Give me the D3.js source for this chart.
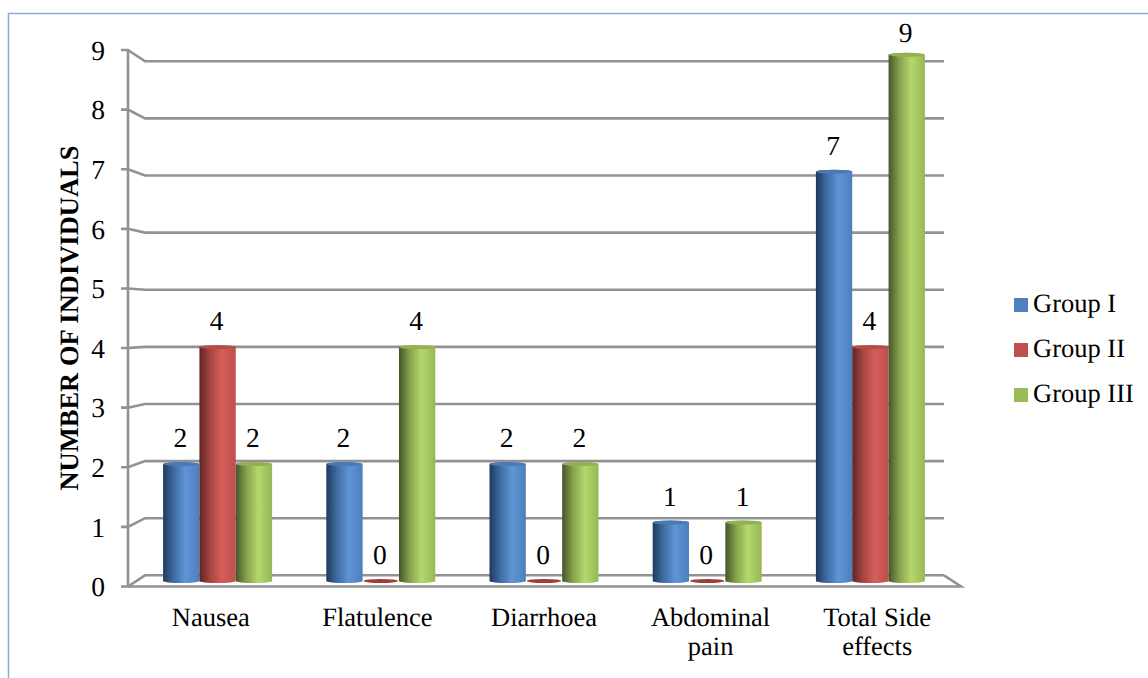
<!DOCTYPE html>
<html>
<head>
<meta charset="utf-8">
<script src="https://cdn.jsdelivr.net/npm/d3@7"></script>
<style>
html,body{margin:0;padding:0;background:#fff}
svg{display:block}
text{font-family:"Liberation Serif","Times New Roman",serif;fill:#000;text-rendering:geometricPrecision}
</style>
</head>
<body>
<div id="chart"></div>
<script>
// Side effects by treatment group
const categories = [["Nausea"], ["Flatulence"], ["Diarrhoea"], ["Abdominal", "pain"], ["Total Side", "effects"]];
const groups = ["Group I", "Group II", "Group III"];
const groupOne = [2, 2, 2, 1, 7];
const groupTwo = [4, 0, 0, 0, 4];
const groupThree = [2, 4, 2, 1, 9];
const seriesValues = [groupOne, groupTwo, groupThree];
const tickValues = [0, 1, 2, 3, 4, 5, 6, 7, 8, 9];
const yTitle = "NUMBER OF INDIVIDUALS";

const swatches = ["#4f81bd", "#c0504d", "#9bbb59"];
const shades = [
  ["#1f3a5c", "#3f6ca3", "#5f94d6", "#4d7fbb"],
  ["#5c2523", "#a84542", "#d65d5a", "#bd504d"],
  ["#46552a", "#87a24d", "#b4d86c", "#97b757"]
];
const gridColor = "#929292";

const width = 1148, height = 678;
const svg = d3.select("#chart").append("svg").attr("width", width).attr("height", height);
const defs = svg.append("defs");

shades.forEach((stops, i) => {
  const g = defs.append("linearGradient").attr("id", "cyl" + i)
    .attr("x1", 0).attr("x2", 1).attr("y1", 0).attr("y2", 0);
  [0, 0.3, 0.62, 1].forEach((o, k) =>
    g.append("stop").attr("offset", o).attr("stop-color", stops[k]));
});

// Enclosing frame, open at the right and the bottom
svg.append("path").attr("d", `M8.5,${height}V13.5H${width}`)
  .attr("fill", "none").attr("stroke", "#8eaadb").attr("stroke-width", 1.5);

// The pseudo-3D plot has a front plane, a back wall and a bar plane
const yFront = d3.scaleLinear().domain([0, 9]).range([586.5, 50]);
const yBack = d3.scaleLinear().domain([0, 9]).range([575.3, 61.3]);
const yBar = d3.scaleLinear().domain([0, 9]).range([581, 54.8]);
const x0 = d3.scaleBand().domain(d3.range(categories.length)).range([136, 952]);
const xFront = d3.scaleBand().domain(d3.range(categories.length)).range([128, 961]);
const x1 = d3.scaleBand().domain(d3.range(groups.length)).range([0, 109]);

const frontX = 128, backX = 145, backRight = 944;
const wall = svg.append("g").attr("fill", "none").attr("stroke", gridColor)
  .attr("stroke-width", 2.6);

wall.selectAll(".grid").data(tickValues).join("path").attr("class", "grid")
  .attr("d", d => `M${frontX - 7},${yFront(d)}H${frontX}L${backX},${yBack(d)}H${backRight}`);
wall.append("path")
  .attr("d", `M${frontX},${yFront(9)}V${yFront(0)}`);
wall.append("path")
  .attr("d", `M${frontX},${yFront(0)}H${frontX + (backRight - backX) + 2 * (backX - frontX)}L${backRight},${yBack(0)}`);

svg.append("g").selectAll("text").data(tickValues).join("text")
  .attr("x", 105).attr("y", d => yFront(d) + 9.7)
  .attr("text-anchor", "end").attr("font-size", 27.5)
  .text(d => d);

svg.append("text")
  .attr("transform", "translate(78,318) rotate(-90)")
  .attr("text-anchor", "middle").attr("font-size", 26.5).attr("font-weight", "bold")
  .text(yTitle);

// Cylinders
const ry = 2;
const cylinder = (x, w, top, bottom) =>
  `M${x},${top}A${w / 2},${ry} 0 0 1 ${x + w},${top}V${bottom}A${w / 2},${ry} 0 0 1 ${x},${bottom}Z`;

const catGroups = svg.append("g").selectAll("g").data(categories).join("g")
  .attr("transform", (d, i) => `translate(${x0(i) + (x0.bandwidth() - 109) / 2},0)`);

catGroups.each(function (cat, c) {
  const sel = d3.select(this);
  seriesValues.forEach((vals, s) => {
    const v = vals[c], x = x1(s), w = x1.bandwidth();
    if (v === 0) {
      sel.append("ellipse").attr("cx", x + w / 2).attr("cy", yBar(0))
        .attr("rx", w / 2 - 1).attr("ry", ry).attr("fill", "#a23c3a");
    } else {
      sel.append("path").attr("d", cylinder(x, w, yBar(v), yBar(0)))
        .attr("fill", `url(#cyl${s})`);
      sel.append("ellipse").attr("cx", x + w / 2).attr("cy", yBar(v))
        .attr("rx", w / 2).attr("ry", ry).attr("fill", d3.color(swatches[s]).darker(0.15));
    }
    // Value labels float above the cap, held back from the top of the plot
    sel.append("text").attr("x", x + w / 2 - 1).attr("y", Math.max(41.5, yBar(v) - 17))
      .attr("text-anchor", "middle").attr("font-size", 27.5).text(v);
  });
});

// Category labels sit on the front plane, so their spacing is a little wider
const labels = svg.append("g").selectAll("text").data(categories).join("text")
  .attr("text-anchor", "middle").attr("font-size", 26.5);
labels.each(function (lines, i) {
  d3.select(this).selectAll("tspan").data(lines).join("tspan")
    .attr("x", xFront(i) + xFront.bandwidth() / 2 - 0.5)
    .attr("y", (d, k) => 626 + k * 29)
    .text(d => d);
});

// Legend
const legendRow = d3.scaleLinear().domain([0, 2]).range([298, 388]);
const legend = svg.append("g").selectAll("g").data(groups).join("g");
legend.append("rect").attr("x", 1014).attr("y", (d, i) => legendRow(i))
  .attr("width", 14).attr("height", 14).attr("fill", (d, i) => swatches[i]);
legend.append("text").attr("x", 1033).attr("y", (d, i) => legendRow(i) + 14)
  .attr("font-size", 26.5).text(d => d);
</script>
</body>
</html>
